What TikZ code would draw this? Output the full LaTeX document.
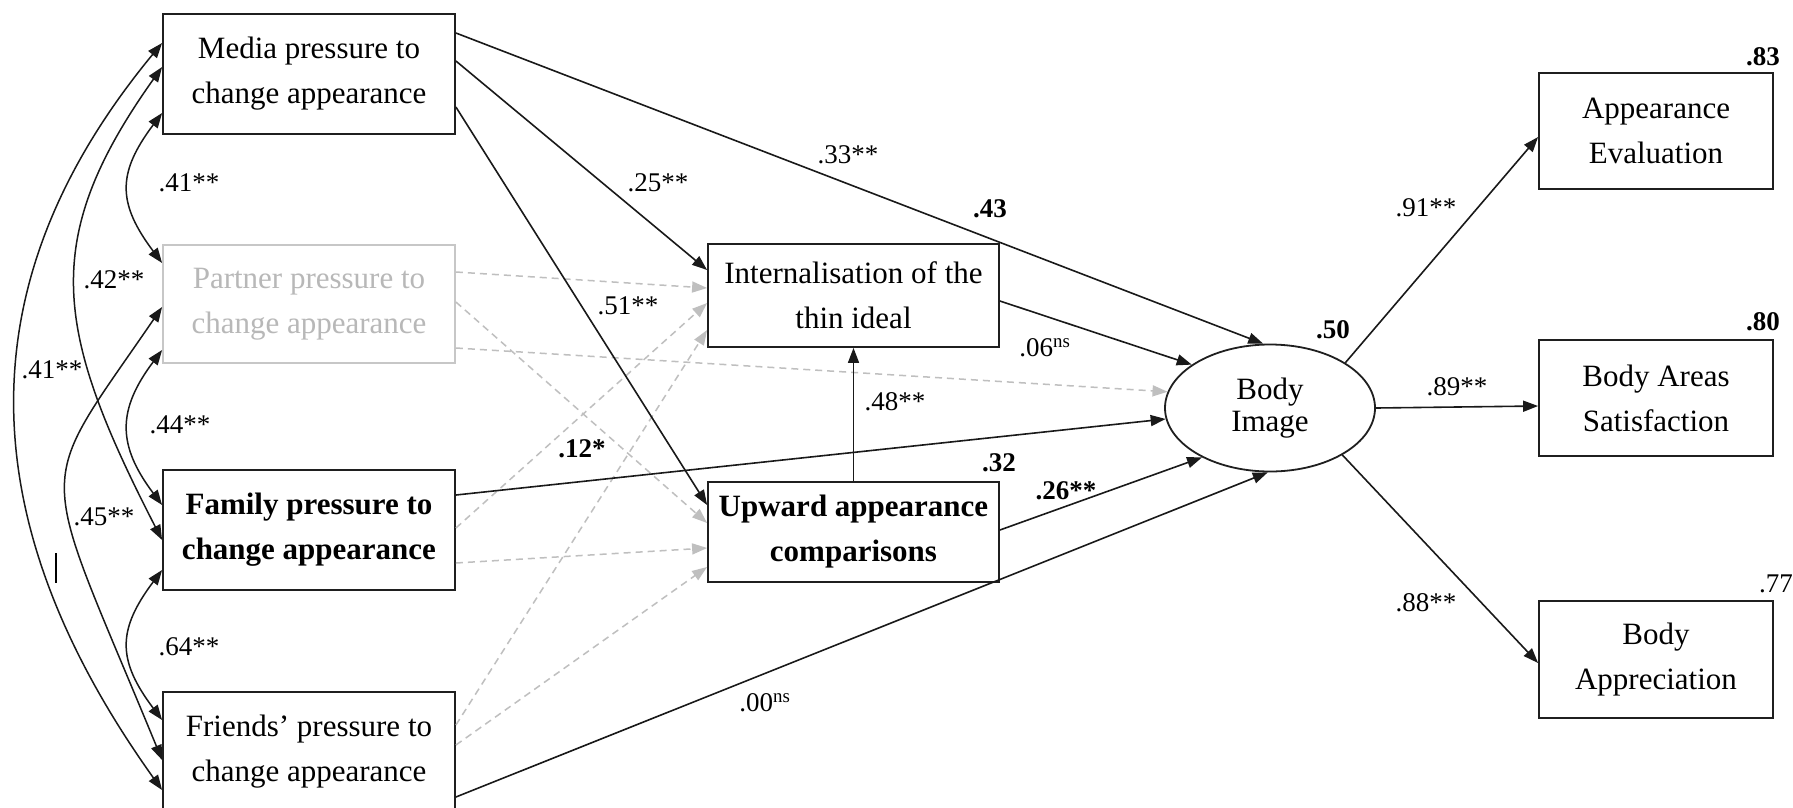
\documentclass[tikz,border=0pt]{standalone}
\usepackage{fontspec}
\setmainfont{Liberation Serif}
\usetikzlibrary{arrows.meta,shapes.geometric}

\newcommand\bxfont{\fontsize{31}{45}\selectfont}
\newcommand\lblfont{\fontsize{27}{30}\selectfont}

\begin{document}
\begin{tikzpicture}[x=1pt,y=1pt,
  box/.style={draw=black!88, line width=1.8pt, minimum width=292pt,
    minimum height=120pt, inner sep=0pt, align=center, font=\bxfont},
  faded/.style={draw=black!22, text=black!28},
  arr/.style={draw=black!90, line width=1.6pt, -{Triangle[length=15pt,width=11pt]}},
  dsh/.style={draw=black!25, line width=1.5pt, dash pattern=on 7pt off 5pt,
    -{Triangle[length=15pt,width=11pt]}},
  corr/.style={draw=black!90, line width=1.5pt,
    {Triangle[length=15pt,width=11pt]}-{Triangle[length=15pt,width=11pt]}},
  lbl/.style={font=\lblfont, inner sep=0pt},
  blbl/.style={font=\lblfont\bfseries, inner sep=0pt}]

\fill[white] (0,0) rectangle (1793,-807);
\useasboundingbox (0,0) rectangle (1793,-807);

% predictors
\node[box] (media) at (309,-74) {Media pressure to\\change appearance};
\node[box, faded, minimum height=118pt] (partner) at (309,-304) {Partner pressure to\\change appearance};
\node[box, font=\bxfont\bfseries] (family) at (309,-530) {Family pressure to\\change appearance};
\node[box] (friends) at (309,-752) {Friends’ pressure to\\change appearance};

% mediators
\node[box, minimum width=291pt, minimum height=103pt] (int) at (853.5,-295.5) {Internalisation of the\\thin ideal};
\node[box, minimum width=291pt, minimum height=100pt, font=\bxfont\bfseries] (up) at (853.5,-532) {Upward appearance\\comparisons};

% latent outcome
\node[ellipse, draw=black!88, line width=1.8pt, minimum width=210pt, minimum height=127pt,
  inner sep=0pt, align=center, font=\fontsize{31}{32}\selectfont] (body) at (1270,-408) {Body\\Image};

% indicators
\node[box, minimum width=234pt, minimum height=116pt] (app) at (1656,-131) {Appearance\\Evaluation};
\node[box, minimum width=234pt, minimum height=116pt] (areas) at (1656,-398) {Body Areas\\Satisfaction};
\node[box, minimum width=234pt, minimum height=117pt] (appr) at (1656,-659.5) {Body\\Appreciation};

% non-significant paths
\draw[dsh] (partner.east |- 0,-272) -- (int.west |- 0,-288);
\draw[dsh] (partner.east |- 0,-302) -- (up.west |- 0,-523);
\draw[dsh] (partner.east |- 0,-348) -- (body.171);
\draw[dsh] (family.east |- 0,-528) -- (int.west |- 0,-303);
\draw[dsh] (family.east |- 0,-563) -- (up.west |- 0,-548);
\draw[dsh] (friends.east |- 0,-725) -- (int.west |- 0,-330);
\draw[dsh] (friends.east |- 0,-745) -- (up.west |- 0,-567);

% structural paths
\draw[arr] (media.east |- 0,-33) -- (body.96);
\draw[arr] (media.east |- 0,-61) -- (int.west |- 0,-270);
\draw[arr] (media.east |- 0,-107) -- (up.west |- 0,-505);
\draw[arr] (int.east |- 0,-301) -- (body.151);
\draw[arr] (family.east |- 0,-495) -- (body.186);
\draw[arr] (up.east |- 0,-530) -- (body.216);
\draw[arr] (friends.east |- 0,-797) -- (body.268);
\draw[arr] (up.north) -- (int.south);

% measurement paths
\draw[arr] (body.31) -- (app.west |- 0,-137);
\draw[arr] (body.east) -- (areas.west |- 0,-406);
\draw[arr] (body.-33) -- (appr.west |- 0,-663);

% correlations among predictors
\draw[corr] (media.west |- 0,-43) .. controls +(-190,-230) and +(-200,280) .. (friends.west |- 0,-790);
\draw[corr] (media.west |- 0,-67) .. controls +(-123,-173) and +(-108,210) .. (family.west |- 0,-540);
\draw[corr] (media.west |- 0,-113) .. controls +(-45,-60) and +(-45,60) .. (partner.west |- 0,-263);
\draw[corr] (partner.west |- 0,-307) .. controls +(-130,-190) and +(-126,306) .. (friends.west |- 0,-760);
\draw[corr] (partner.west |- 0,-350) .. controls +(-45,-60) and +(-45,60) .. (family.west |- 0,-505);
\draw[corr] (family.west |- 0,-570) .. controls +(-45,-60) and +(-45,60) .. (friends.west |- 0,-720);
\draw[line width=1.5pt] (56,-553) -- (56,-583);

% correlation labels
\node[lbl] (c1) at (52,-370) {.41**};
\node[lbl] (c2) at (114,-280) {.42**};
\node[lbl] (c3) at (189,-183) {.41**};
\node[lbl] (c4) at (104,-517) {.45**};
\node[lbl] (c5) at (180,-425) {.44**};
\node[lbl] (c6) at (189,-647) {.64**};

% path coefficients
\node[lbl] (p1) at (848,-155) {.33**};
\node[lbl] (p2) at (658,-183) {.25**};
\node[lbl] (p3) at (628,-306) {.51**};
\node[lbl] (p4) at (895,-402) {.48**};
\node[lbl] (p5) at (1045,-348) {.06\textsuperscript{ns}};
\node[lbl] (p6) at (765,-703) {.00\textsuperscript{ns}};
\node[blbl] (p7) at (582,-449) {.12*};
\node[blbl] (p8) at (1066,-491) {.26**};
\node[lbl] (p9) at (1426,-208) {.91**};
\node[lbl] (p10) at (1457,-387) {.89**};
\node[lbl] (p11) at (1426,-603) {.88**};

% explained variance
\node[blbl] (r1) at (990,-209) {.43};
\node[blbl] (r2) at (999,-463) {.32};
\node[blbl] (r3) at (1333,-330) {.50};
\node[blbl] (r4) at (1763,-57) {.83};
\node[blbl] (r5) at (1763,-322) {.80};
\node[lbl] (r6) at (1776,-584) {.77};
\end{tikzpicture}
\end{document}
